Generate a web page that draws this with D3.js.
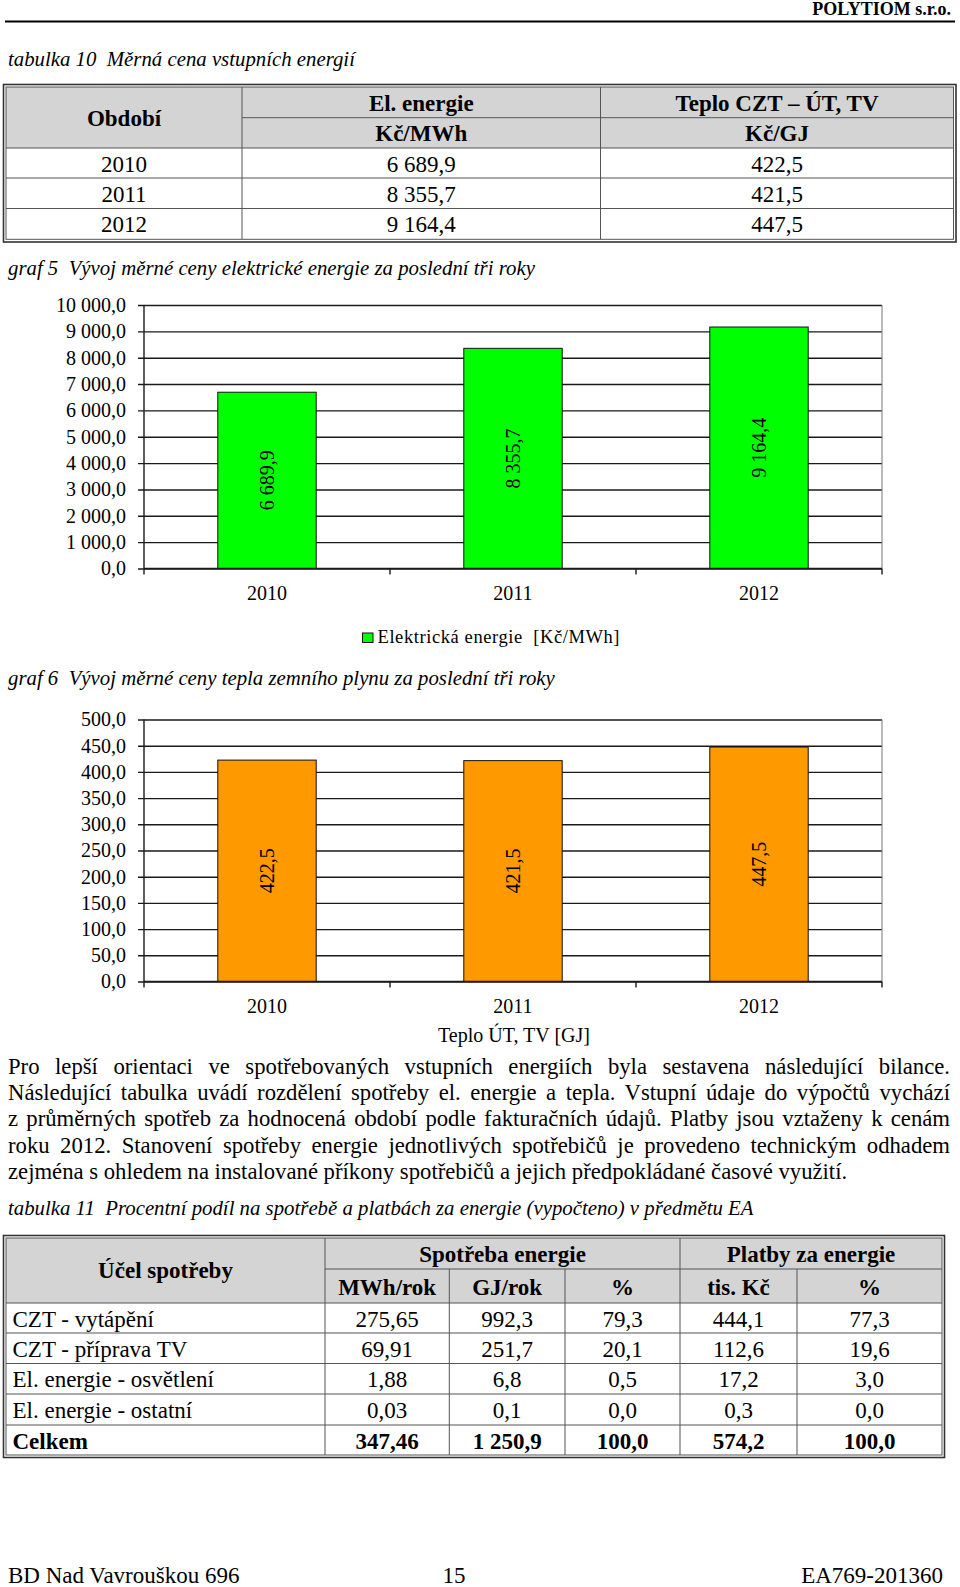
<!DOCTYPE html>
<html><head><meta charset="utf-8">
<script src="https://cdn.jsdelivr.net/npm/d3@7"></script>
<style>
html,body{margin:0;padding:0;background:#fff;}
svg{display:block;}
text{font-family:"Liberation Serif","Times New Roman",serif;fill:#000;white-space:pre;}
</style></head><body>
<svg id="page" width="960" height="1587"></svg>
<script>
// ---------- data ----------
const years = ["2010", "2011", "2012"];
const elPrices = [6689.9, 8355.7, 9164.4];      // Kč/MWh
const heatPrices = [422.5, 421.5, 447.5];       // Kč/GJ
const elTicks = [0, 1000, 2000, 3000, 4000, 5000, 6000, 7000, 8000, 9000, 10000];
const heatTicks = [0, 50, 100, 150, 200, 250, 300, 350, 400, 450, 500];

const purposes = ["CZT - vytápění", "CZT - příprava TV", "El. energie - osvětlení", "El. energie - ostatní", "Celkem"];
const useMWh = [275.65, 69.91, 1.88, 0.03, 347.46];
const useGJ = [992.3, 251.7, 6.8, 0.1, 1250.9];
const usePct = [79.3, 20.1, 0.5, 0.0, 100.0];
const payKc = [444.1, 112.6, 17.2, 0.3, 574.2];
const payPct = [77.3, 19.6, 3.0, 0.0, 100.0];

const paragraph = [
  "Pro lepší orientaci ve spotřebovaných vstupních energiích byla sestavena následující bilance.",
  "Následující tabulka uvádí rozdělení spotřeby el. energie a tepla. Vstupní údaje do výpočtů vychází",
  "z průměrných spotřeb za hodnocená období podle fakturačních údajů. Platby jsou vztaženy k cenám",
  "roku 2012. Stanovení spotřeby energie jednotlivých spotřebičů je provedeno technickým odhadem",
  "zejména s ohledem na instalované příkony spotřebičů a jejich předpokládané časové využití."
];

// ---------- helpers ----------
const cz = d3.formatLocale({decimal: ",", thousands: "\u00a0", grouping: [3], currency: ["", " Kč"]});
const f1 = cz.format(",.1f"), f2 = cz.format(",.2f");
const svg = d3.select("#page");
const BODY = 23, PARA = 22.7, CAP = 20.8;

function line(g, x1, y1, x2, y2, w, c) {
  g.append("line").attr("x1", x1).attr("y1", y1).attr("x2", x2).attr("y2", y2)
    .attr("stroke", c || "#000").attr("stroke-width", w || 1);
}
function txt(g, x, y, s, size, opts) {
  opts = opts || {};
  return g.append("text").attr("x", x).attr("y", y).text(s)
    .style("font-size", size + "px")
    .style("font-weight", opts.bold ? "bold" : null)
    .style("font-style", opts.italic ? "italic" : null)
    .attr("text-anchor", opts.anchor || "start");
}

// ---------- page header ----------
txt(svg, 951, 15, "POLYTIOM s.r.o.", 18, {bold: true, anchor: "end"});
line(svg, 5, 21.5, 955, 21.5, 2, "#000");

// ---------- table 10 ----------
txt(svg, 8, 66, "tabulka 10  Měrná cena vstupních energií", CAP, {italic: true});
(function () {
  const g = svg.append("g");
  const cols = [6, 242, 600.5, 953.5];
  const rowsY = [148, 178, 208.5, 239.3];
  const W = cols[3] - cols[0];
  g.append("rect").attr("x", 6).attr("y", 87).attr("width", W).attr("height", 61).attr("fill", "#d4d4d4");
  line(g, cols[1], 117.7, cols[3], 117.7, 1, "#555");
  rowsY.slice(0, 3).forEach(y => line(g, cols[0], y, cols[3], y, 1, "#555"));
  [cols[1], cols[2]].forEach(x => line(g, x, 87, x, 239.3, 1, "#555"));
  g.append("rect").attr("x", 3.5).attr("y", 84.5).attr("width", W + 5).attr("height", 157.5)
    .attr("fill", "none").attr("stroke", "#333").attr("stroke-width", 1.6);
  g.append("rect").attr("x", 6).attr("y", 87).attr("width", W).attr("height", 152.3)
    .attr("fill", "none").attr("stroke", "#555").attr("stroke-width", 1);
  const cx = i => (cols[i] + cols[i + 1]) / 2;
  txt(g, cx(0), 126, "Období", BODY, {bold: true, anchor: "middle"});
  txt(g, cx(1), 110.5, "El. energie", BODY, {bold: true, anchor: "middle"});
  txt(g, cx(2), 110.5, "Teplo CZT – ÚT, TV", BODY, {bold: true, anchor: "middle"});
  txt(g, cx(1), 141, "Kč/MWh", BODY, {bold: true, anchor: "middle"});
  txt(g, cx(2), 141, "Kč/GJ", BODY, {bold: true, anchor: "middle"});
  years.forEach((yr, i) => {
    const by = rowsY[i] + 23.5;
    txt(g, cx(0), by, yr, BODY, {anchor: "middle"});
    txt(g, cx(1), by, f1(elPrices[i]), BODY, {anchor: "middle"});
    txt(g, cx(2), by, f1(heatPrices[i]), BODY, {anchor: "middle"});
  });
})();

// ---------- bar chart helper ----------
function barChart(cfg) {
  const g = svg.append("g");
  const L = 144, R = 882;
  const x = d3.scaleBand().domain(years).range([L, R]).paddingInner(0.6).paddingOuter(0.3);
  const y = d3.scaleLinear().domain([0, d3.max(cfg.ticks)]).range([cfg.bottom, cfg.top]);
  const ax = g.append("g").attr("transform", `translate(${L - 6},0)`)
    .call(d3.axisLeft(y).tickValues(cfg.ticks).tickSizeInner(-(R - L + 6)).tickSizeOuter(0)
      .tickPadding(12).tickFormat(f1));
  ax.select(".domain").remove();
  ax.selectAll(".tick line").attr("stroke", "#1a1a1a").attr("stroke-width", 1.4);
  ax.selectAll(".tick text").style("font-size", "20px")
    .style("font-family", '"Liberation Serif","Times New Roman",serif').attr("fill", "#000");
  line(g, R, y.range()[1], R, cfg.bottom, 1, "#777");
  line(g, L, y.range()[1], L, cfg.bottom, 1.4, "#1a1a1a");
  d3.range(years.length + 1).forEach(i => {
    const tx = L + i * x.step();
    line(g, tx, cfg.bottom, tx, cfg.bottom + 6, 1.4, "#1a1a1a");
  });
  g.selectAll("rect.bar").data(cfg.values).join("rect").attr("class", "bar")
    .attr("x", (d, i) => x(years[i])).attr("y", d => y(d))
    .attr("width", x.bandwidth()).attr("height", d => y(0) - y(d))
    .attr("fill", cfg.fill).attr("stroke", "#111").attr("stroke-width", 1);
  line(g, L, cfg.bottom, R, cfg.bottom, 1.4, "#1a1a1a");
  g.selectAll("text.val").data(cfg.values).join("text").attr("class", "val")
    .attr("transform", (d, i) => `translate(${x(years[i]) + x.bandwidth() / 2},${(y(d) + y(0)) / 2}) rotate(-90)`)
    .attr("text-anchor", "middle").attr("dominant-baseline", "central")
    .style("font-size", "20px").attr("fill", "#1c1c1c").text(d => f1(d));
  years.forEach((yr, i) => txt(g, x(yr) + x.bandwidth() / 2, cfg.bottom + 31, yr, 20, {anchor: "middle"}));
  return {g, x, y};
}

// ---------- graf 5 ----------
txt(svg, 8, 275, "graf 5  Vývoj měrné ceny elektrické energie za poslední tři roky", CAP, {italic: true});
barChart({top: 305, bottom: 568.5, ticks: elTicks, values: elPrices, fill: "#00ff00"});
svg.append("rect").attr("x", 362.5).attr("y", 633).attr("width", 10.5).attr("height", 9.5)
  .attr("fill", "#00ff00").attr("stroke", "#111").attr("stroke-width", 1);
txt(svg, 377.5, 643, "Elektrická energie  [Kč/MWh]", 18.5).attr("textLength", 242).attr("lengthAdjust", "spacing");

// ---------- graf 6 ----------
txt(svg, 8, 685, "graf 6  Vývoj měrné ceny tepla zemního plynu za poslední tři roky", CAP, {italic: true});
barChart({top: 719.5, bottom: 981.5, ticks: heatTicks, values: heatPrices, fill: "#ff9900"});
txt(svg, 514, 1042, "Teplo ÚT, TV [GJ]", 20, {anchor: "middle"});

// ---------- paragraph ----------
paragraph.forEach((ln, i) => {
  const t = txt(svg, 8, 1073.5 + i * 26.35, ln, PARA).style("white-space", "normal");
  if (i < paragraph.length - 1) {
    const w = t.node().getComputedTextLength();
    const n = (ln.match(/ /g) || []).length;
    t.style("word-spacing", ((950 - 8 - w) / n) + "px");
  }
});

// ---------- table 11 ----------
txt(svg, 8, 1215, "tabulka 11  Procentní podíl na spotřebě a platbách za energie (vypočteno) v předmětu EA", CAP, {italic: true});
(function () {
  const g = svg.append("g");
  const cols = [6, 325, 449.3, 565, 680, 797, 942];
  const rowsY = [1303, 1333, 1363.5, 1394, 1425, 1455];
  const W = cols[6] - cols[0];
  g.append("rect").attr("x", 6).attr("y", 1238).attr("width", W).attr("height", 65).attr("fill", "#d4d4d4");
  line(g, cols[1], 1269, cols[6], 1269, 1, "#555");
  rowsY.slice(0, 5).forEach(y => line(g, cols[0], y, cols[6], y, 1, "#555"));
  [cols[1], cols[4]].forEach(x => line(g, x, 1238, x, 1455, 1, "#555"));
  [cols[2], cols[3], cols[5]].forEach(x => line(g, x, 1269, x, 1455, 1, "#555"));
  g.append("rect").attr("x", 3.5).attr("y", 1235.5).attr("width", W + 5).attr("height", 222)
    .attr("fill", "none").attr("stroke", "#333").attr("stroke-width", 1.6);
  g.append("rect").attr("x", 6).attr("y", 1238).attr("width", W).attr("height", 217)
    .attr("fill", "none").attr("stroke", "#555").attr("stroke-width", 1);
  const cx = i => (cols[i] + cols[i + 1]) / 2;
  txt(g, cx(0), 1277.5, "Účel spotřeby", BODY, {bold: true, anchor: "middle"});
  txt(g, (cols[1] + cols[4]) / 2, 1261.5, "Spotřeba energie", BODY, {bold: true, anchor: "middle"});
  txt(g, (cols[4] + cols[6]) / 2, 1261.5, "Platby za energie", BODY, {bold: true, anchor: "middle"});
  ["MWh/rok", "GJ/rok", "%", "tis. Kč", "%"].forEach((h, j) =>
    txt(g, cx(j + 1), 1294.5, h, BODY, {bold: true, anchor: "middle"}));
  purposes.forEach((p, i) => {
    const by = rowsY[i] + 23.5;
    const b = i === purposes.length - 1;
    txt(g, 12.5, by, p, BODY, {bold: b});
    [f2(useMWh[i]), f1(useGJ[i]), f1(usePct[i]), f1(payKc[i]), f1(payPct[i])].forEach((v, j) =>
      txt(g, cx(j + 1), by, v, BODY, {bold: b, anchor: "middle"}));
  });
})();

// ---------- footer ----------
txt(svg, 8, 1583, "BD Nad Vavrouškou 696", 23);
txt(svg, 454, 1583, "15", 23, {anchor: "middle"});
txt(svg, 943, 1583, "EA769-201360", 23, {anchor: "end"});
</script>
</body></html>
